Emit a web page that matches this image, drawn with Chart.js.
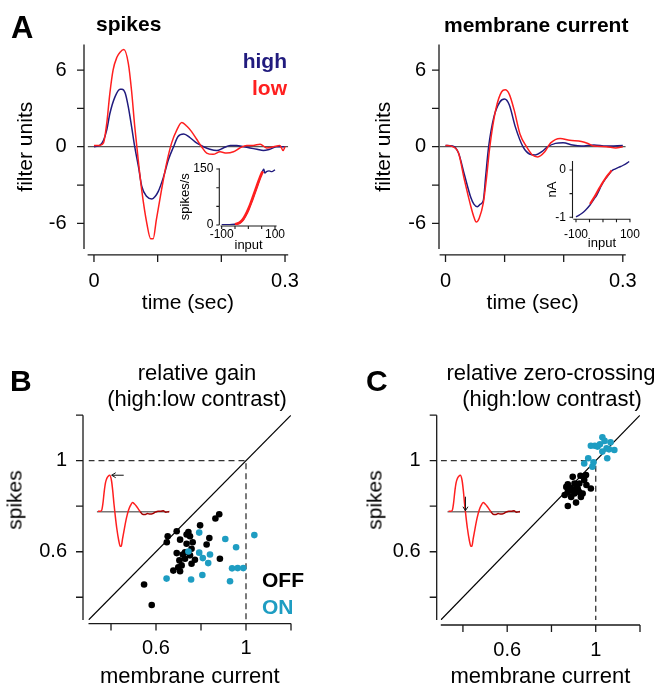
<!DOCTYPE html>
<html lang="en">
<head>
<meta charset="UTF-8">
<title>Contrast adaptation: spikes vs membrane current</title>
<script src="https://cdn.jsdelivr.net/npm/chart.js"></script>
<style>
  body { margin: 0; background: #fff; }
  #fig { position: relative; width: 660px; height: 688px; overflow: hidden;
         font-family: "Liberation Sans", Arial, Helvetica, sans-serif; color: #000; }
  #fig canvas { position: absolute; left: 0; top: 0; }
  .lbl { position: absolute; line-height: 1; white-space: nowrap; }
  .b { font-weight: bold; }
  .c { transform: translateX(-50%); }
  .r { transform: translateX(-100%); }
  .v { transform: translate(-50%, -50%) rotate(-90deg); }
</style>
</head>
<body>
<div id="fig">
  <canvas id="spk" width="660" height="688"></canvas>
  <canvas id="mem" width="660" height="688"></canvas>
  <canvas id="spkNl" width="660" height="688"></canvas>
  <canvas id="memNl" width="660" height="688"></canvas>
  <canvas id="gain" width="660" height="688"></canvas>
  <canvas id="zero" width="660" height="688"></canvas>
  <canvas id="gainTrace" width="660" height="688"></canvas>
  <canvas id="zeroTrace" width="660" height="688"></canvas>

  <!-- panel A -->
  <div class="lbl b" style="left:11px;top:12px;font-size:31px">A</div>
  <div class="lbl b" style="left:96px;top:13px;font-size:21px">spikes</div>
  <div class="lbl b" style="left:444px;top:14px;font-size:21px">membrane current</div>
  <div class="lbl b r" style="left:287px;top:50px;font-size:21px;color:#211b7e">high</div>
  <div class="lbl b r" style="left:287px;top:77px;font-size:21px;color:#ff1f1f">low</div>

  <!-- panel B -->
  <div class="lbl b" style="left:10px;top:366px;font-size:30px">B</div>
  <div class="lbl c" style="left:197px;top:362px;font-size:22px">relative gain</div>
  <div class="lbl c" style="left:197px;top:388px;font-size:22px">(high:low contrast)</div>
  <div class="lbl v" style="left:14px;top:500px;font-size:21px">spikes</div>
  <div class="lbl b" style="left:262px;top:569px;font-size:21px">OFF</div>
  <div class="lbl b" style="left:262px;top:596px;font-size:21px;color:#1e9dc2">ON</div>

  <!-- panel C -->
  <div class="lbl b" style="left:366px;top:366px;font-size:30px">C</div>
  <div class="lbl c" style="left:551px;top:362px;font-size:22px">relative zero-crossing</div>
  <div class="lbl c" style="left:552px;top:388px;font-size:22px">(high:low contrast)</div>
  <div class="lbl v" style="left:374px;top:500px;font-size:21px">spikes</div>
</div>

<script>
// ---- data ----
// A: linear filters (filter units vs time, s)
const spkLowT  = [0, .009, .015, .020, .025, .030, .036, .041, .047, .054, .059, .064, .069, .075, .083, .089, .093, .098,
                  .106, .114, .122, .130, .138, .146, .153, .161, .169, .177, .187, .198, .208, .219, .229, .240, .250,
                  .261, .271, .282, .292, .297, .300];
const spkLowV  = [0.1, 0.1, 0.3, 1.8, 4.2, 6.0, 7.0, 7.4, 7.6, 6.5, 4.4, 1.6, -0.8, -3.4, -6.0, -7.2, -7.2, -5.7,
                  -3.4, -1.3, 0.3, 1.3, 1.9, 1.6, 1.2, 0.6, 0.0, -0.5, -0.6, -0.4, -0.5, -0.4, -0.1, 0.1, 0.1,
                  0.2, -0.1, 0.0, 0.1, -0.3, 0.0];
const spkHighT = [0, .009, .015, .020, .025, .033, .041, .044, .049, .054, .059, .064, .070, .075, .083, .091, .096, .101,
                  .109, .117, .125, .132, .141, .151, .161, .172, .182, .193, .203, .214, .224, .235, .245, .256, .266,
                  .276, .287, .300];
const spkHighV = [0, 0.1, 0.5, 1.3, 2.6, 3.9, 4.5, 4.5, 4.2, 3.1, 1.6, 0, -1.6, -3.1, -3.9, -4.1, -3.9, -3.5,
                  -2.4, -1.0, 0, 0.8, 1.0, 0.7, 0.3, 0, -0.2, -0.3, -0.1, 0.1, 0.1, 0, -0.1, -0.2, -0.3,
                  -0.2, 0, 0];
const memLowT  = [0, .012, .022, .032, .043, .048, .052, .057, .064, .069, .075, .085, .095, .101, .108, .116, .126,
                  .137, .147, .156, .168, .178, .194, .210, .230, .241, .251, .272, .288, .300];
const memLowV  = [0.1, 0, -0.5, -2.6, -4.7, -5.5, -5.9, -5.6, -4.4, -2.6, 0, 2.9, 4.3, 4.45, 4.1, 2.9, 1.0,
                  0, -0.65, -0.8, -0.4, 0.3, 0.65, 0.5, 0.4, 0.25, 0.05, 0, -0.1, 0];
const memHighT = [0, .012, .022, .032, .043, .048, .054, .059, .064, .068, .073, .082, .092, .100, .108, .118, .131,
                  .142, .152, .163, .173, .186, .199, .215, .230, .251, .272, .300];
const memHighV = [0.1, 0.05, -0.5, -2.2, -4.0, -4.5, -4.7, -4.5, -4.2, -2.3, 0, 2.35, 3.5, 3.73, 3.26, 1.57, 0,
                  -0.57, -0.65, -0.39, 0, 0.26, 0.31, 0.13, 0.05, 0.13, 0.05, 0.1];

// A insets: static nonlinearities
const nlSpkHighX = [-100, -70, -50, -40, -30, -20, -10, 0, 10, 20, 30, 40, 48, 54, 58, 62, 68, 78, 88, 100];
const nlSpkHighY = [1, 1, 2, 3, 6, 13, 25, 40, 58, 78, 98, 118, 134, 145, 150, 139, 143, 145, 143, 148];
const nlSpkLowX  = [-50, -40, -30, -20, -10, 0, 10, 20, 30, 40, 50, 55];
const nlSpkLowY  = [2, 4, 8, 15, 27, 42, 60, 80, 100, 120, 138, 143];
const nlMemHighX = [-100, -90, -79, -65, -48, -35, -23, -5, 8, 20, 32, 44, 60, 75, 90, 97];
const nlMemHighY = [-0.99, -0.96, -0.92, -0.85, -0.74, -0.63, -0.53, -0.32, -0.2, -0.11, -0.02, 0.02, 0.06, 0.1, 0.15, 0.18];
const nlMemLowX  = [-48, -35, -20, -5, 10, 25, 32];
const nlMemLowY  = [-0.72, -0.6, -0.45, -0.3, -0.17, -0.06, -0.01];

// B: relative gain (membrane current vs spikes)
const gainOffX = [0.881, 0.864, 0.796, 0.692, 0.652, 0.648, 0.744, 0.751, 0.707, 0.736, 0.763, 0.837, 0.825, 0.758, 0.692,
                  0.719, 0.751, 0.729, 0.704, 0.758, 0.714, 0.699, 0.677, 0.707, 0.884, 0.547, 0.581, 0.729, 0.773, 0.736];
const gainOffY = [0.765, 0.746, 0.716, 0.690, 0.668, 0.642, 0.687, 0.668, 0.653, 0.635, 0.642, 0.660, 0.632, 0.613, 0.594,
                  0.588, 0.584, 0.569, 0.562, 0.547, 0.540, 0.532, 0.517, 0.514, 0.569, 0.456, 0.366, 0.598, 0.565, 0.676];
const gainOnX  = [1.037, 0.908, 0.792, 0.956, 0.744, 0.792, 0.840, 0.808, 0.832, 0.938, 0.963, 0.988, 0.929, 0.806, 0.756, 0.647];
const gainOnY  = [0.673, 0.656, 0.684, 0.620, 0.601, 0.596, 0.588, 0.572, 0.550, 0.527, 0.528, 0.528, 0.470, 0.498, 0.478, 0.482];

// C: relative zero-crossing
const zeroOffX = [0.896, 0.931, 0.956, 0.874, 0.904, 0.926, 0.948, 0.889, 0.919, 0.978, 0.874, 0.904, 0.941, 0.889, 0.933,
                  0.911, 0.874, 0.860, 0.867, 0.915, 0.895, 0.925, 0.958];
const zeroOffY = [0.929, 0.934, 0.937, 0.896, 0.900, 0.900, 0.915, 0.878, 0.875, 0.878, 0.863, 0.856, 0.856, 0.841, 0.841,
                  0.816, 0.801, 0.849, 0.885, 0.885, 0.868, 0.862, 0.893];
const zeroOnX  = [1.030, 0.996, 1.019, 1.040, 1.067, 1.084, 1.052, 1.030, 0.966, 0.948, 0.985, 0.990, 1.008, 0.978, 1.049, 1.060];
const zeroOnY  = [1.103, 1.066, 1.072, 1.087, 1.081, 1.047, 1.011, 1.040, 1.011, 0.988, 0.974, 0.993, 1.062, 1.066, 1.055, 1.050];

// ticks and labels
const timeTicks = [0, 0.1, 0.2, 0.3], timeLabels = [0, 0.3];
const filtTicks = [-6, -3, 0, 3, 6], filtLabels = [-6, 0, 6];
const inputTicks = [-100, -50, 0, 50, 100], inputLabels = [-100, 100];
const rateTicks = [0, 50, 100, 150], rateLabels = [0, 150];
const nATicks = [-1, -0.5, 0], nALabels = [-1, 0];
const ratioTicks = [0.4, 0.6, 0.8, 1, 1.2], ratioLabels = [0.6, 1];
const tMin = -0.01, tMax = 0.305, fMin = -8, fMax = 8, rMin = 0.3, rMax = 1.2;

// ---- helpers ----
const FONT = '"Liberation Sans", Arial, Helvetica, sans-serif';
const NAVY = '#211b7e', RED = '#ff1f1f', CYAN = '#1e9dc2';

function pts(xs, ys) { return xs.map((x, i) => ({x: x, y: ys[i]})); }

function axis(o) {
  return {
    type: 'linear', min: o.min, max: o.max,
    grid: {display: false, drawTicks: false},
    border: {display: false},
    afterBuildTicks: s => { s.ticks = o.ticks.map(v => ({value: v})); },
    afterFit: s => { if (s.isHorizontal()) s.height = o.fit; else s.width = o.fit; },
    ticks: {
      autoSkip: false, maxRotation: 0, minRotation: 0, padding: o.pad, color: '#000',
      font: {family: FONT, size: o.size, lineHeight: 1},
      callback: v => o.labels.includes(v) ? String(v) : ''
    },
    title: {display: !!o.title, text: o.title || '', color: '#000', padding: 0,
            font: {family: FONT, size: o.titleSize || o.size, lineHeight: 1}}
  };
}

function curve(xs, ys, color, width, order) {
  return {data: pts(xs, ys), borderColor: color, borderWidth: width, pointRadius: 0,
          fill: false, cubicInterpolationMode: 'monotone', order: order};
}

function dots(xs, ys, color, order) {
  return {data: pts(xs, ys), backgroundColor: color, pointRadius: 3.3, borderWidth: 0, order: order};
}

// detached axis lines with outward tick marks
const rAxes = {
  id: 'rAxes',
  afterDraw(chart, args, o) {
    const {ctx, chartArea: a} = chart;
    const x = chart.scales.x, y = chart.scales.y;
    const ax = a.left - o.gapX, ay = a.bottom + o.gapY;
    ctx.save();
    ctx.strokeStyle = '#1a1a1a';
    ctx.lineWidth = o.width;
    ctx.beginPath();
    ctx.moveTo(ax, a.top); ctx.lineTo(ax, a.bottom);
    for (const t of y.ticks) {
      const p = y.getPixelForValue(t.value);
      ctx.moveTo(ax - o.len, p); ctx.lineTo(ax, p);
    }
    ctx.moveTo(a.left, ay); ctx.lineTo(a.right, ay);
    for (const t of x.ticks) {
      const p = x.getPixelForValue(t.value);
      ctx.moveTo(p, ay); ctx.lineTo(p, ay + o.len);
    }
    ctx.stroke();
    ctx.restore();
  }
};

// arrow on the small filter sketch: at the peak (gain) or at the zero-crossing
const arrowMark = {
  id: 'arrowMark',
  afterDatasetsDraw(chart, args, o) {
    const {ctx} = chart, x = chart.scales.x, y = chart.scales.y;
    const iPk = spkLowV.indexOf(Math.max(...spkLowV));
    ctx.save();
    ctx.strokeStyle = '#111';
    ctx.lineWidth = 1;
    ctx.beginPath();
    if (o.mode === 'peak') {
      const px = x.getPixelForValue(spkLowT[iPk]) + 2, py = y.getPixelForValue(spkLowV[iPk]);
      ctx.moveTo(px + 12, py); ctx.lineTo(px, py);
      ctx.moveTo(px + 4, py - 2.5); ctx.lineTo(px, py); ctx.lineTo(px + 4, py + 2.5);
    } else {
      let j = iPk;
      while (spkLowV[j] > 0) j++;
      const t0 = spkLowT[j - 1], t1 = spkLowT[j], v0 = spkLowV[j - 1], v1 = spkLowV[j];
      const tz = t0 + (t1 - t0) * v0 / (v0 - v1);
      const px = x.getPixelForValue(tz), py = y.getPixelForValue(0) - 1;
      ctx.moveTo(px, py - 14); ctx.lineTo(px, py);
      ctx.moveTo(px - 2.5, py - 4); ctx.lineTo(px, py); ctx.lineTo(px + 2.5, py - 4);
    }
    ctx.stroke();
    ctx.restore();
  }
};

// area = plot box in page pixels, P = left edge of the y scale box, fitH = height of the x scale box
function makeChart(id, type, area, P, fitH, xo, yo, datasets, rOpts) {
  xo.fit = fitH;
  yo.fit = area.l - P;
  return new Chart(document.getElementById(id), {
    type: type,
    data: {datasets: datasets},
    options: {
      responsive: false, animation: false, events: [],
      layout: {autoPadding: false,
               padding: {left: P, top: area.t, right: 660 - area.r, bottom: Math.max(0, 688 - area.b - fitH)}},
      scales: {x: axis(xo), y: axis(yo)},
      plugins: {legend: {display: false}, tooltip: {enabled: false}, rAxes: rOpts}
    },
    plugins: [rAxes]
  });
}

function makeTrace(id, area, mode) {
  return new Chart(document.getElementById(id), {
    type: 'line',
    data: {datasets: [
      {data: pts(spkLowT, spkLowV), borderWidth: 1.5, pointRadius: 0, fill: false,
       cubicInterpolationMode: 'monotone', order: 0, borderColor: RED,
       segment: {borderColor: c => c.p0.parsed.x >= 0.165 ? '#a30000' : RED}},
      {data: pts([-0.005, 0.285], [0, 0]), borderColor: '#777', borderWidth: 1.6, pointRadius: 0, order: 1}
    ]},
    options: {
      responsive: false, animation: false, events: [],
      layout: {autoPadding: false, padding: {left: area.l, top: area.t, right: 660 - area.r, bottom: 688 - area.b}},
      scales: {x: {type: 'linear', display: false, min: -0.005, max: 0.285},
               y: {type: 'linear', display: false, min: fMin, max: fMax}},
      plugins: {legend: {display: false}, tooltip: {enabled: false}, arrowMark: {mode: mode}}
    },
    plugins: [arrowMark]
  });
}

// ---- panel A: filters ----
makeChart('spk', 'line', {l: 87.6, r: 288.2, t: 44.5, b: 248.9}, 15.7, 64.6,
  {min: tMin, max: tMax, ticks: timeTicks, labels: timeLabels, size: 20, pad: 23, title: 'time (sec)', titleSize: 21},
  {min: fMin, max: fMax, ticks: filtTicks, labels: filtLabels, size: 20, pad: 21, title: 'filter units', titleSize: 21},
  [curve(spkLowT, spkLowV, RED, 1.5, 0),
   curve(spkHighT, spkHighV, NAVY, 1.5, 1),
   {data: pts([tMin, tMax], [0, 0]), borderColor: '#555', borderWidth: 1.2, pointRadius: 0, order: 2}],
  {gapX: 3.6, gapY: 6, len: 7, width: 1.3});

makeChart('mem', 'line', {l: 439.6, r: 640.9, t: 44.5, b: 248.9}, 374, 64.6,
  {min: tMin, max: tMax, ticks: timeTicks, labels: timeLabels, size: 20, pad: 23, title: 'time (sec)', titleSize: 21},
  {min: fMin, max: fMax, ticks: filtTicks, labels: filtLabels, size: 20, pad: 13.6, title: 'filter units', titleSize: 21},
  [curve(memLowT, memLowV, RED, 1.5, 0),
   curve(memHighT, memHighV, NAVY, 1.5, 1),
   {data: pts([tMin, tMax], [0, 0]), borderColor: '#555', borderWidth: 1.2, pointRadius: 0, order: 2}],
  {gapX: 0.6, gapY: 6, len: 7, width: 1.3});

// A insets: nonlinearities
makeChart('spkNl', 'line', {l: 220.6, r: 276.6, t: 168.3, b: 225}, 178.9, 26.5,
  {min: -104, max: 106, ticks: inputTicks, labels: inputLabels, size: 12, pad: 4, title: 'input', titleSize: 13},
  {min: 0, max: 152, ticks: rateTicks, labels: rateLabels, size: 12, pad: 7.3, title: 'spikes/s', titleSize: 13},
  [curve(nlSpkLowX, nlSpkLowY, RED, 2.8, 0),
   curve(nlSpkHighX, nlSpkHighY, NAVY, 1.4, 1)],
  {gapX: 1.3, gapY: 1, len: 3, width: 1.1});

makeChart('memNl', 'line', {l: 573.3, r: 630.5, t: 161, b: 218.2}, 545.9, 31.5,
  {min: -110, max: 102, ticks: inputTicks, labels: inputLabels, size: 12, pad: 10, title: 'input', titleSize: 13},
  {min: -1.02, max: 0.19, ticks: nATicks, labels: nALabels, size: 12, pad: 7.3, title: 'nA', titleSize: 13},
  [curve(nlMemLowX, nlMemLowY, RED, 2, 0),
   curve(nlMemHighX, nlMemHighY, NAVY, 1.4, 1)],
  {gapX: 0.8, gapY: 1, len: 3, width: 1.1});

// ---- panels B and C: scatter ----
const diag = {data: pts([rMin, rMax], [rMin, rMax]), showLine: true, borderColor: '#000', borderWidth: 1.2,
              pointRadius: 0, order: 2};
const unity = {data: pts([rMin, 1, 1], [1, 1, rMin]), showLine: true, borderColor: '#333', borderWidth: 1.3,
               borderDash: [6, 4], pointRadius: 0, order: 3};

makeChart('gain', 'scatter', {l: 88.5, r: 291, t: 415.2, b: 620}, 0, 68,
  {min: rMin, max: rMax, ticks: ratioTicks, labels: ratioLabels, size: 20, pad: 18, title: 'membrane current', titleSize: 22},
  {min: rMin, max: rMax, ticks: ratioTicks, labels: ratioLabels, size: 20, pad: 21.5},
  [dots(gainOnX, gainOnY, CYAN, 0), dots(gainOffX, gainOffY, '#000', 1), diag, unity],
  {gapX: 5.5, gapY: 3.6, len: 7, width: 1.3});

makeChart('zero', 'scatter', {l: 440.8, r: 643.3, t: 415.2, b: 620}, 0, 68,
  {min: rMin, max: rMax, ticks: ratioTicks, labels: ratioLabels, size: 20, pad: 20, title: 'membrane current', titleSize: 22},
  {min: rMin, max: rMax, ticks: ratioTicks, labels: ratioLabels, size: 20, pad: 20.3},
  [dots(zeroOnX, zeroOnY, CYAN, 0), dots(zeroOffX, zeroOffY, '#000', 1),
   Object.assign({}, diag), Object.assign({}, unity)],
  {gapX: 4.1, gapY: 5, len: 7, width: 1.3});

// small filter sketches inside B and C
makeTrace('gainTrace', {l: 96.7, r: 169.3, t: 473.3, b: 550.1}, 'peak');
makeTrace('zeroTrace', {l: 447.3, r: 520, t: 473.3, b: 550.1}, 'zero');
</script>
</body>
</html>
